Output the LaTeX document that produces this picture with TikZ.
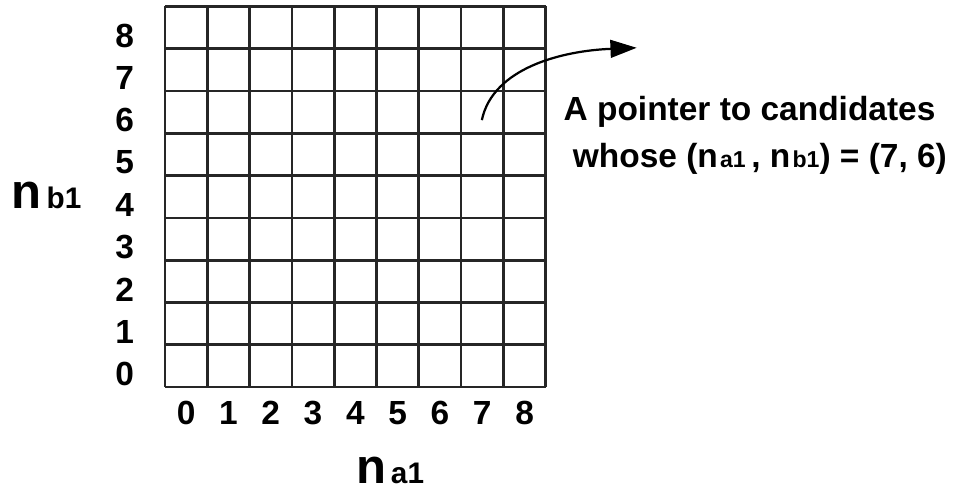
\documentclass[tikz,border=0pt]{standalone}
\usepackage{fontspec}
\setmainfont{Liberation Sans}
\usepackage{tikz}
\usetikzlibrary{arrows.meta}
\newcommand{\nidx}[1]{n\kern1.5pt{\fontsize{15.5}{15.5}\selectfont #1}}

\begin{document}
\begin{tikzpicture}[every node/.style={font=\bfseries}]
\tikzstyle{cellgrid}=[line width=1.8pt, black!85]
\tikzstyle{ticknum}=[font=\fontsize{22.5}{24}\selectfont\bfseries]
\tikzstyle{axisname}=[font=\fontsize{33}{36}\selectfont\bfseries]
\tikzstyle{note}=[align=left, anchor=west, font=\fontsize{22.5}{32}\selectfont\bfseries]
\useasboundingbox (-3.90,-2.553) rectangle (18.84,9.15);
\draw[cellgrid] (0,0) grid (9,9);
\foreach \k in {0,...,8} {
  \node[ticknum] (row\k) at (-0.95,\k+0.31) {\k};
  \node[ticknum] (col\k) at (\k+0.5,-0.61) {\k};
}
\node[axisname] (nb) at (-2.8,4.52) {n{\fontsize{20}{20}\selectfont\,b1}};
\node[axisname] (na) at (5.32,-1.96) {n{\fontsize{20}{20}\selectfont\,a1}};
\node[note] (ptrtext) at (9.3,5.95)
  {A pointer to candidates\\\ whose (\nidx{a1}\,, \nidx{b1}) = (7, 6)};
\coordinate (ptrstart) at (7.49,6.31);
\coordinate (ptrtip) at (11.15,8.02);
\draw[line width=1.5pt, -{Triangle[length=0.62cm, width=0.42cm]}]
  (ptrstart) .. controls (7.75,7.55) and (9.4,7.95) .. (ptrtip);
\end{tikzpicture}
\end{document}
